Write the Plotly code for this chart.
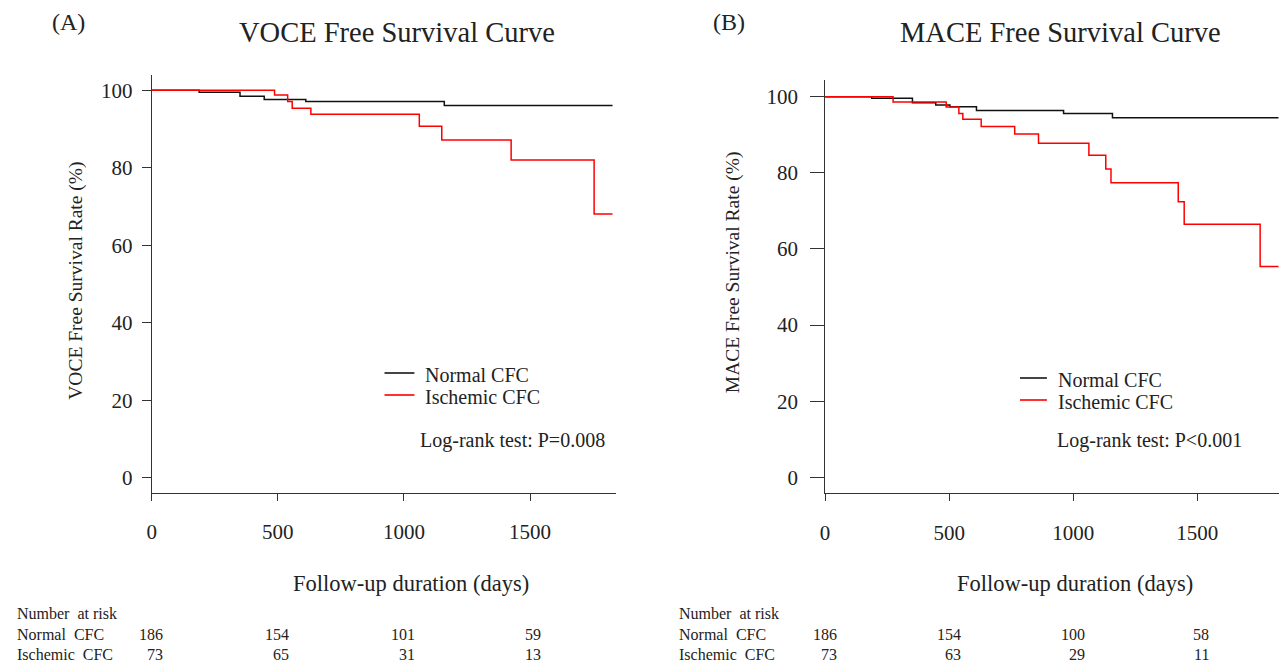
import plotly.graph_objects as go

W, H = 1279, 665
FONT = "Liberation Serif, Times New Roman, serif"

# ---------------- data ----------------
# Panel A: VOCE
a_normal_days = [0, 188, 350, 446, 611, 1160, 1827]
a_normal_surv = [100, 99.5, 98.5, 97.6, 97.1, 96.1, 96.1]
a_isch_days = [0, 487, 539, 557, 631, 1061, 1150, 1425, 1754, 1827]
a_isch_surv = [100, 98.8, 97.1, 95.4, 93.8, 90.7, 87.2, 82.0, 68.1, 68.1]

# Panel B: MACE
b_normal_days = [0, 188, 352, 446, 503, 610, 961, 1158, 1827]
b_normal_surv = [100, 99.6, 98.4, 97.8, 97.4, 96.4, 95.6, 94.5, 94.5]
b_isch_days = [0, 274, 488, 539, 555, 629, 764, 860, 1063, 1131, 1152, 1423, 1447, 1753, 1827]
b_isch_surv = [100, 98.6, 97.3, 95.6, 94.1, 92.2, 90.2, 87.8, 84.6, 81.0, 77.4, 72.4, 66.5, 55.4, 55.4]

x_ticks = [0, 500, 1000, 1500]
y_ticks = [0, 20, 40, 60, 80, 100]

risk_days = [0, 500, 1000, 1500]
a_risk_normal = [186, 154, 101, 59]
a_risk_isch = [73, 65, 31, 13]
b_risk_normal = [186, 154, 100, 58]
b_risk_isch = [73, 63, 29, 11]

group_names = ["Normal CFC", "Ischemic CFC"]
risk_row_labels = ["Normal  CFC", "Ischemic  CFC"]
pvals = ["Log-rank test: P=0.008", "Log-rank test: P<0.001"]
titles = ["VOCE Free Survival Curve", "MACE Free Survival Curve"]
panel_tags = ["(A)", "(B)"]
y_titles = ["VOCE Free Survival Rate (%)", "MACE Free Survival Rate (%)"]
x_title = "Follow-up duration (days)"

BLACK = "#111111"
RED = "#ff0000"
TXT = "#222222"


def px(x):
    return x / W


def py(y):
    return 1 - y / H


fig = go.Figure()

fig.add_trace(go.Scatter(x=a_normal_days, y=a_normal_surv, mode="lines", line=dict(color=BLACK, width=1.5, shape="hv"),
                         name=group_names[0], xaxis="x", yaxis="y"))
fig.add_trace(go.Scatter(x=a_isch_days, y=a_isch_surv, mode="lines", line=dict(color=RED, width=1.5, shape="hv"),
                         name=group_names[1], xaxis="x", yaxis="y"))
fig.add_trace(go.Scatter(x=b_normal_days, y=b_normal_surv, mode="lines", line=dict(color=BLACK, width=1.5, shape="hv"),
                         name=group_names[0], xaxis="x2", yaxis="y2"))
fig.add_trace(go.Scatter(x=b_isch_days, y=b_isch_surv, mode="lines", line=dict(color=RED, width=1.5, shape="hv"),
                         name=group_names[1], xaxis="x2", yaxis="y2"))

tickfont = dict(family=FONT, size=21, color=TXT)
axis_common = dict(showline=True, linecolor="#333", linewidth=1, ticks="outside", tickcolor="#333",
                   tickwidth=1, showgrid=False, zeroline=False, tickfont=tickfont)

fig.update_layout(
    width=W, height=H, autosize=False,
    margin=dict(l=0, r=0, t=0, b=0),
    paper_bgcolor="white", plot_bgcolor="white",
    font=dict(family=FONT, color=TXT),
    showlegend=False,
    xaxis=dict(domain=[px(147.3), px(613.2)], range=[0, 1840], anchor="y", tickvals=x_ticks,
               ticklen=7, ticklabelstandoff=12, **axis_common),
    yaxis=dict(domain=[py(493.3), py(75)], range=[-3.95, 103.95], anchor="x", tickvals=y_ticks,
               ticklen=9, ticklabelstandoff=5, **axis_common),
    xaxis2=dict(domain=[px(823.3), 1.0], range=[0, 1829], anchor="y2", tickvals=x_ticks,
                ticklen=7, ticklabelstandoff=13, **axis_common),
    yaxis2=dict(domain=[py(493.3), py(80)], range=[-4.2, 104.4], anchor="x2", tickvals=y_ticks,
                ticklen=14, ticklabelstandoff=8, **axis_common),
)

ann = []
shapes = []

# panel tags and titles
for tag, tx, title, cx in zip(panel_tags, [64, 727], titles, [394, 1060]):
    ann.append(dict(text=tag, x=px(tx), y=py(22), xref="paper", yref="paper", showarrow=False,
                    xanchor="center", yanchor="middle", font=dict(family=FONT, size=24, color=TXT)))
    ann.append(dict(text=title, x=px(cx), y=py(33), xref="paper", yref="paper", showarrow=False,
                    xanchor="center", yanchor="middle", font=dict(family=FONT, size=28.5, color=TXT)))
# y titles
for yt, tx, ty in zip(y_titles, [71, 731], [281, 272]):
    ann.append(dict(text=yt, x=px(tx), y=py(ty), xref="paper", yref="paper", showarrow=False, textangle=-90,
                    xanchor="center", yanchor="middle", font=dict(family=FONT, size=19.5, color=TXT)))
# x titles
for cx in [408, 1074]:
    ann.append(dict(text=x_title, x=px(cx), y=py(583), xref="paper", yref="paper", showarrow=False,
                    xanchor="center", yanchor="middle", font=dict(family=FONT, size=22.5, color=TXT)))

# legends (line samples + labels)
for (lx0, lx1, tx, ys) in [(381, 411, 420, [373, 395]), (1019, 1046, 1055, [378, 400])]:
    for name, col, yy in zip(group_names, ["#444444", "#ff3030"], ys):
        shapes.append(dict(type="line", xref="paper", yref="paper", x0=px(lx0), x1=px(lx1), y0=py(yy), y1=py(yy),
                           line=dict(color=col, width=2)))
        ann.append(dict(text=name, x=px(tx), y=py(yy + 2), xref="paper", yref="paper", showarrow=False,
                        xanchor="left", yanchor="middle", font=dict(family=FONT, size=20, color=TXT)))

# log-rank
for pv, lx, ly in zip(pvals, [415, 1054], [439, 440]):
    ann.append(dict(text=pv, x=px(lx), y=py(ly + 1), xref="paper", yref="paper", showarrow=False,
                    xanchor="left", yanchor="middle", font=dict(family=FONT, size=20, color=TXT)))

# number at risk tables
rfont = dict(family=FONT, size=16, color=TXT)
row_y = [613, 634, 654]
for xref, lx, rn, ri, shift in [("x", 11, a_risk_normal, a_risk_isch, 12), ("x2", 676, b_risk_normal, b_risk_isch, 13)]:
    ann.append(dict(text="Number  at risk", x=px(lx), y=py(row_y[0]), xref="paper", yref="paper", showarrow=False,
                    xanchor="left", yanchor="middle", borderpad=0, font=rfont))
    for lab, yy in zip(risk_row_labels, row_y[1:]):
        ann.append(dict(text=lab, x=px(lx), y=py(yy), xref="paper", yref="paper", showarrow=False,
                        xanchor="left", yanchor="middle", borderpad=0, font=rfont))
    for d, n1, n2 in zip(risk_days, rn, ri):
        ann.append(dict(text=str(n1), x=d, y=py(row_y[1]), xref=xref, yref="paper", showarrow=False, xshift=shift,
                        xanchor="right", yanchor="middle", borderpad=0, font=rfont))
        ann.append(dict(text=str(n2), x=d, y=py(row_y[2]), xref=xref, yref="paper", showarrow=False, xshift=shift,
                        xanchor="right", yanchor="middle", borderpad=0, font=rfont))

fig.update_layout(annotations=ann, shapes=shapes)
fig.write_html("out.html", config={"displayModeBar": False},
               post_script="document.body.style.margin='0';document.body.style.overflow='hidden';")
